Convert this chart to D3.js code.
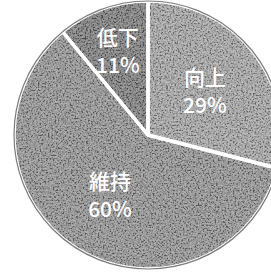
<!DOCTYPE html>
<html>

<head>
    <script src="https://d3js.org/d3.v7.min.js"></script>
    <style>
        body { margin: 0; background: #fff; }
        .label { fill: #fff; font-family: "Noto Sans CJK JP", sans-serif; font-size: 21px; font-weight: 500; text-anchor: middle; }
    </style>
</head>

<body>
    <div id="chart"></div>
    <script>
        const categories = ["向上", "維持", "低下"];
        const values = [29, 60, 11];
        const colors = ["#9d9d9d", "#888888", "#6c6c6c"];
        const labelRadius = [72, 71, 89];

        const width = 271, height = 272;
        const cx = 148, cy = 135, radius = 134;

        const svg = d3.select("#chart")
            .append("svg")
            .attr("width", width)
            .attr("height", height);

        const defs = svg.append("defs");
        // gray noise for the scanned look
        const grain = defs.append("filter").attr("id", "grain").attr("x", 0).attr("y", 0).attr("width", 1).attr("height", 1);
        grain.append("feTurbulence").attr("type", "fractalNoise").attr("baseFrequency", 0.6).attr("numOctaves", 2).attr("seed", 5);
        grain.append("feColorMatrix").attr("type", "matrix")
            .attr("values", "2.6 0 0 0 -0.8  2.6 0 0 0 -0.8  2.6 0 0 0 -0.8  0 0 0 0 1");
        defs.append("filter").attr("id", "soft").append("feGaussianBlur").attr("stdDeviation", 0.6);
        defs.append("clipPath").attr("id", "disc")
            .append("circle").attr("cx", cx).attr("cy", cy).attr("r", radius);

        const pie = d3.pie().sort(null).value(d => d);
        const arcs = pie(values);
        const arc = d3.arc().innerRadius(0).outerRadius(radius);

        const g = svg.append("g").attr("transform", `translate(${cx},${cy})`);

        g.selectAll("path.slice")
            .data(arcs)
            .join("path")
            .attr("class", "slice")
            .attr("d", arc)
            .attr("fill", (d, i) => colors[i]);

        svg.append("rect")
            .attr("width", width).attr("height", height)
            .attr("filter", "url(#grain)")
            .attr("clip-path", "url(#disc)")
            .attr("opacity", 0.35);

        // everything above the grain
        const overlay = svg.append("g").attr("transform", `translate(${cx},${cy})`);

        // white separators
        overlay.selectAll("path.sep")
            .data(arcs)
            .join("path")
            .attr("class", "sep")
            .attr("d", arc)
            .attr("fill", "none")
            .attr("stroke", "#fff")
            .attr("stroke-width", 3.5)
            .attr("stroke-linejoin", "round")
            .attr("filter", "url(#soft)");

        overlay.append("circle").attr("r", radius).attr("fill", "none").attr("stroke", "#7a7a7a").attr("stroke-width", 1.2).attr("filter", "url(#soft)");

        const labels = overlay.selectAll("g.lab")
            .data(arcs)
            .join("g")
            .attr("class", "lab")
            .attr("transform", (d, i) => {
                const [x, y] = d3.arc().innerRadius(labelRadius[i]).outerRadius(labelRadius[i]).centroid(d);
                return `translate(${x},${y})`;
            });

        labels.append("text").attr("class", "label").attr("y", -6).text((d, i) => categories[i]);
        labels.append("text").attr("class", "label").attr("y", 22).text((d, i) => values[i] + "%");
    </script>

</body>

</html>
